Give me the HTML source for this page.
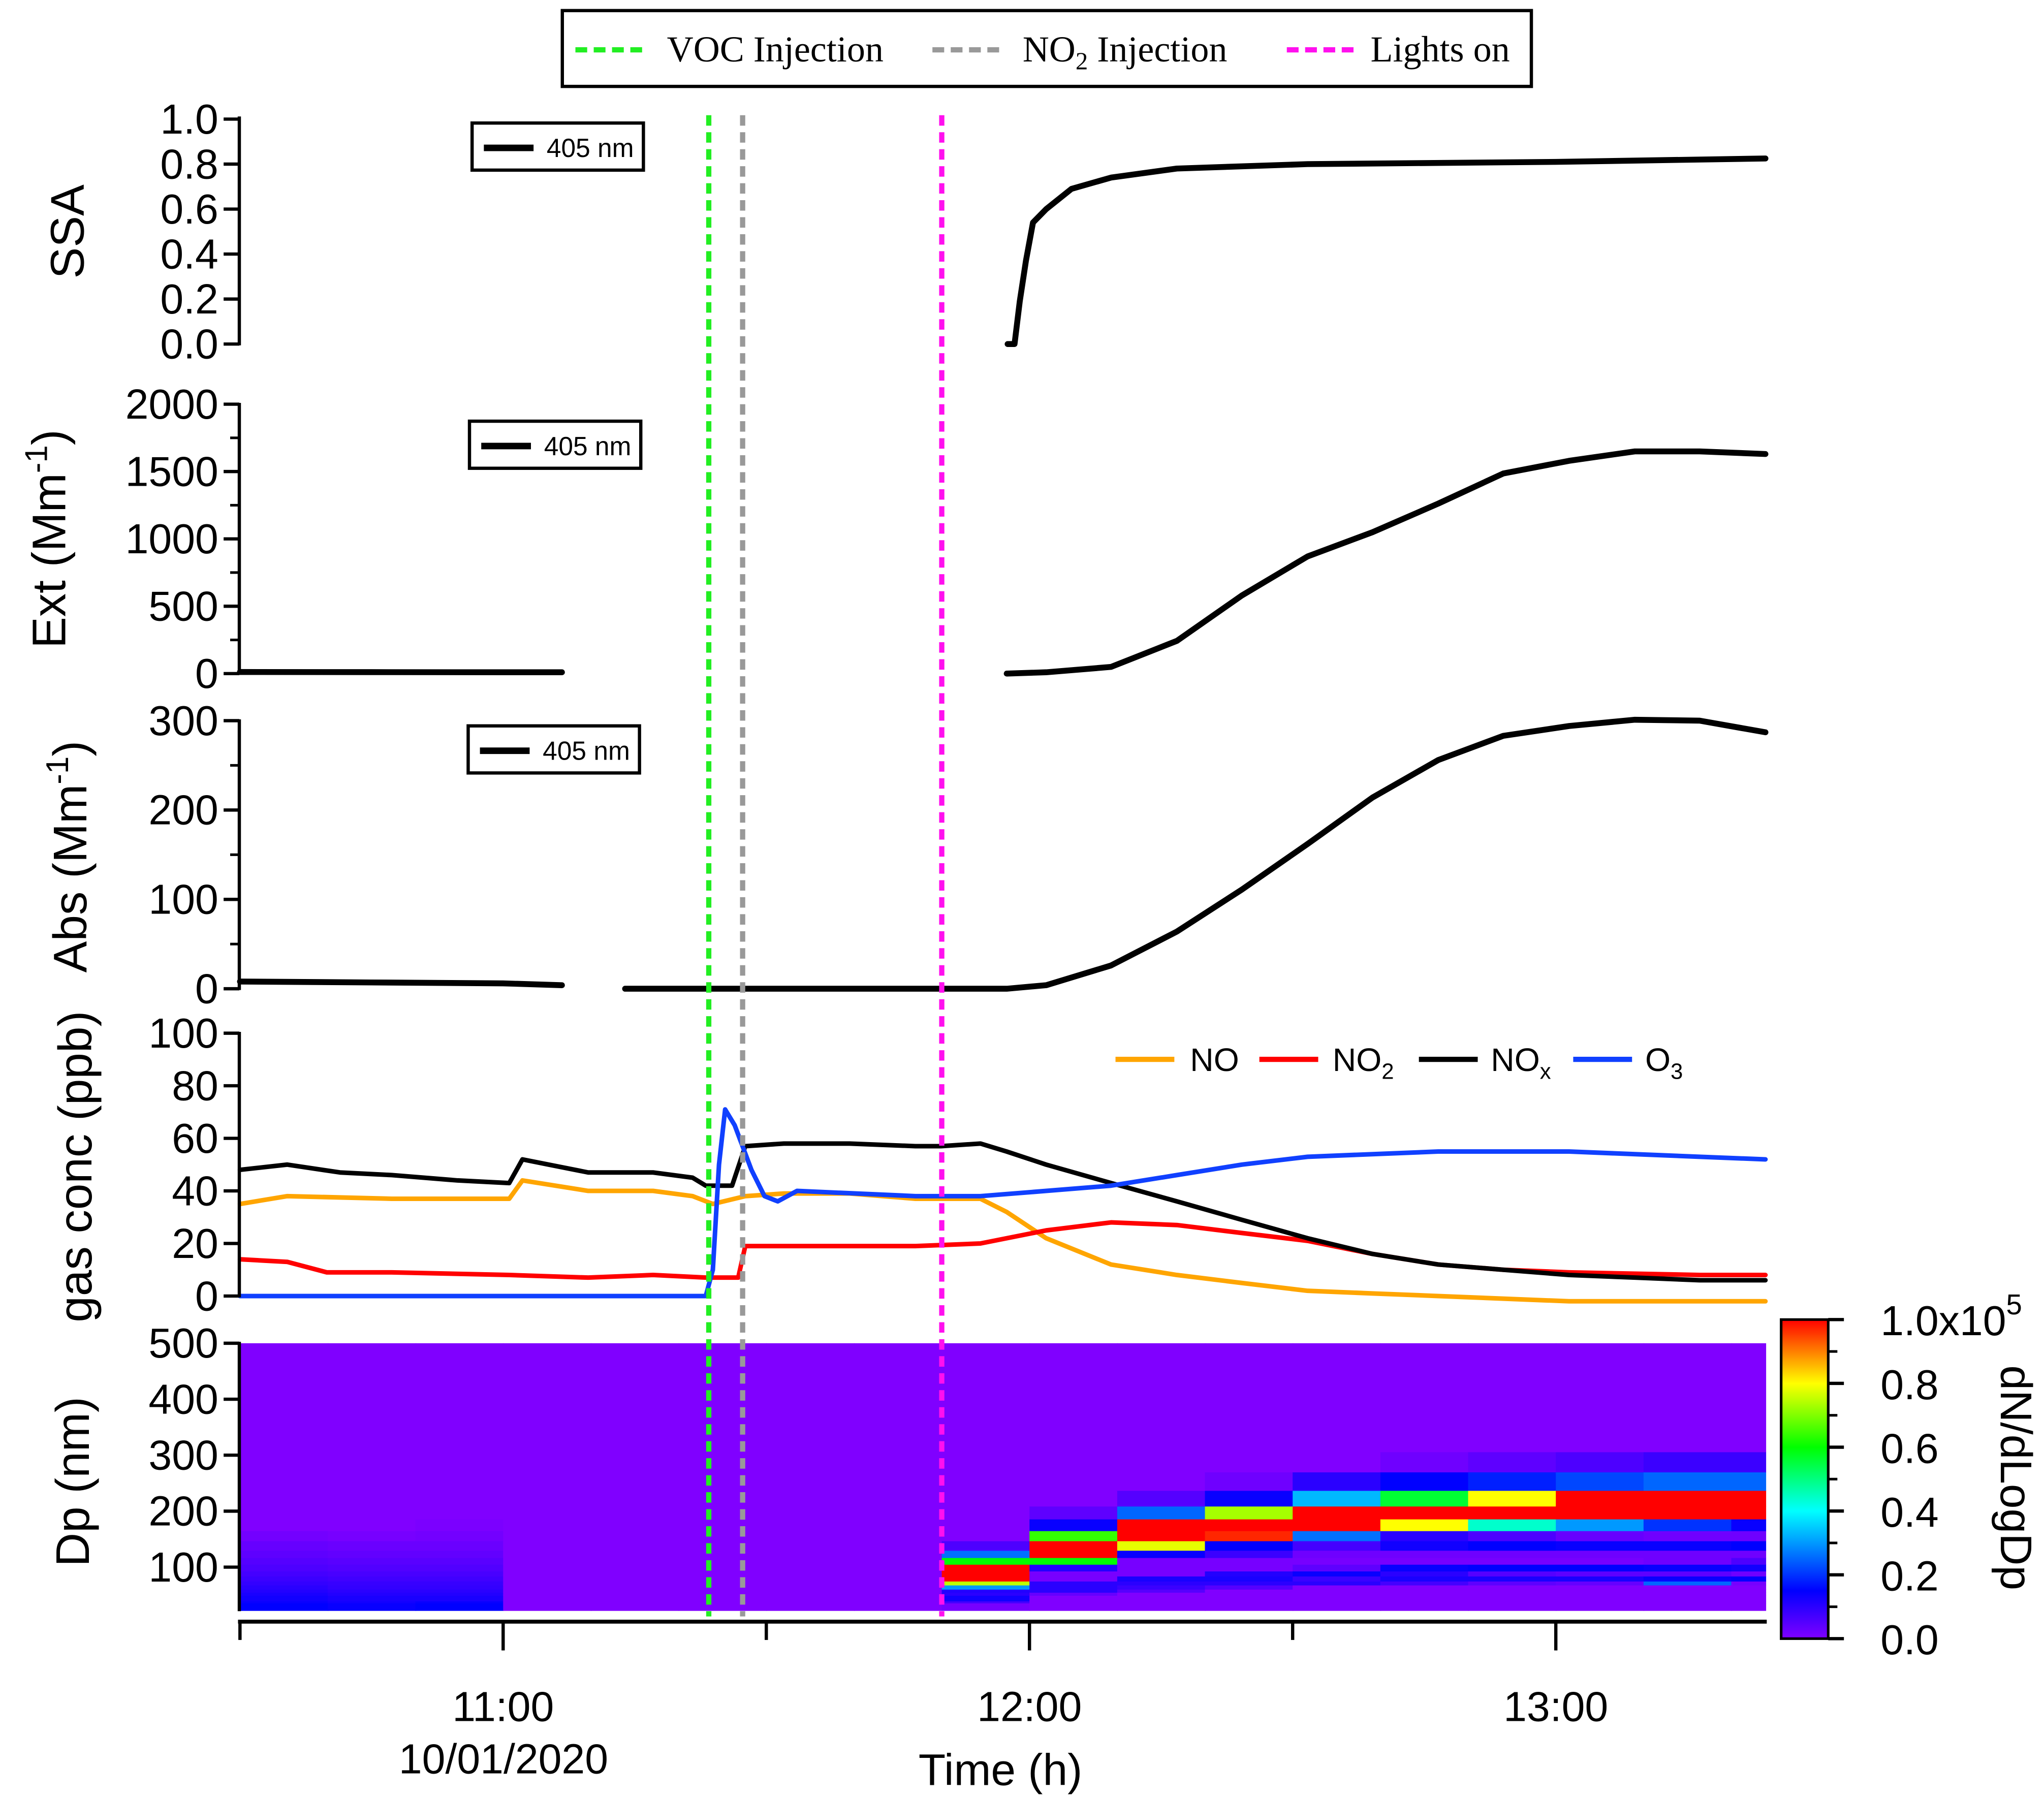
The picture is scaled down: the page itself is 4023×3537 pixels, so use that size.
<!DOCTYPE html>
<html><head><meta charset="utf-8"><style>
html,body{margin:0;padding:0;background:#fff}
svg{display:block}
text{font-family:"Liberation Sans",sans-serif}
text.serif{font-family:"Liberation Serif",serif}
</style></head><body>
<svg id="chart" width="4023" height="3537" viewBox="0 0 1563 1374" xmlns="http://www.w3.org/2000/svg">
<rect x="0" y="0" width="1563" height="1374" fill="#fff"/>
<g id="g"></g>
</svg>
<script>
// ---- data (time in minutes after 10:00) ----
const ssaT=[117.5,118.3,118.9,119.6,120.4,121.9,124.8,129.3,136.8,151.7,180,203.9];
const ssaV=[0,0,0.19,0.37,0.54,0.6,0.69,0.74,0.78,0.8,0.81,0.825];
const extT=[30,45,60,66.7,90,117.4,121.9,129.3,136.8,144.2,151.7,159.1,166.6,174,181.5,189,196.4,203.9];
const extV=[12,11,10,10,null,0,10,50,243,580,870,1050,1262,1485,1580,1650,1650,1630];
const absT=[30,45,60,66.7,70,73.9,100,117.4,121.9,129.3,136.8,144.2,151.7,159.1,166.6,174,181.5,189,196.4,203.9];
const absV=[8,7,6,4,null,0,0,0,4,26,64,111,162,214,256,283,294,301,300,287];
const noxT=[30,35.4,41.4,47.3,54.8,60.7,62.2,65.2,69.7,77.1,81.6,83.1,86.1,87.6,92.0,99.5,107.0,109.9,114.4,117.4,121.9,129.3,136.8,144.2,151.7,159.1,166.6,174.0,181.5,189.0,196.4,203.9];
const noxV=[48,50,47,46,44,43,52,50,47,47,45,42,42,57,58,58,57,57,58,55,50,43,36,29,22,16,12,10,8,7,6,6];
const noT=[30,35.4,47.3,60.7,62.2,69.7,77.1,81.6,83.9,87.6,92.0,99.5,107.0,114.4,117.4,121.9,129.3,136.8,144.2,151.7,159.1,166.6,174.0,181.5,196.4,203.9];
const noV=[35,38,37,37,44,40,40,38,35,38,39,39,37,37,32,22,12,8,5,2,1,0,-1,-2,-2,-2];
const no2T=[30,35.4,39.9,47.3,60.7,69.7,77.1,83.1,86.8,87.6,92.0,107.0,114.4,121.9,129.3,136.8,144.2,151.7,159.1,166.6,174.0,181.5,196.4,203.9];
const no2V=[14,13,9,9,8,7,8,7,7,19,19,19,20,25,28,27,24,21,16,12,10,9,8,8];
const o3T=[30,83.1,83.9,84.6,85.3,86.4,88.3,89.8,91.3,93.5,107.0,114.4,121.9,129.3,136.8,144.2,151.7,166.6,181.5,196.4,203.9];
const o3V=[0,0,10,50,71,65,48,38,36,40,38,38,40,42,46,50,53,55,55,53,52];
const dpEdges=[22.5,36,39.5,49.5,55,60.5,68,75,84,93,105,117,130,147,165,186,209,237,270,306,500];
const binStarts=[30,40,50,60,70,80,90,100,110,120,130,140,150,160,170,180,190,200];
const cells=[
[0.15,0.14,0.13,0.12,0.11,0.10,0.09,0.08,0.07,0.06,0.05,0.04,0.03,0.015,0,0,0,0,0,0],
[0.14,0.13,0.12,0.11,0.10,0.09,0.085,0.075,0.065,0.055,0.045,0.035,0.025,0.01,0,0,0,0,0,0],
[0.15,0.14,0.12,0.11,0.10,0.09,0.085,0.075,0.065,0.055,0.045,0.035,0.025,0.015,0.005,0,0,0,0,0],
[0,0,0,0,0,0,0,0,0,0,0,0,0,0,0,0,0,0,0,0],
[0,0,0,0,0,0,0,0,0,0,0,0,0,0,0,0,0,0,0,0],
[0,0,0,0,0,0,0,0,0,0,0,0,0,0,0,0,0,0,0,0],
[0,0,0,0,0,0,0,0,0,0,0,0,0,0,0,0,0,0,0,0],
[0,0,0,0,0,0,0,0,0,0,0,0,0,0,0,0,0,0,0,0],
[0.01,0.07,0.13,0.10,0.11,0.30,0.75,1,1,1,0.6,0.26,0.06,0,0,0,0,0,0,0],
[0,0,0,0.03,0.1,0.1,0.1,0.01,0.01,0.11,0.6,1,1,0.64,0.14,0.04,0,0,0,0],
[0,0,0,0,0.05,0.08,0.1,0.12,0.01,0.01,0.01,0.14,0.78,1,1,0.25,0.05,0,0,0],
[0,0,0,0,0,0.05,0.1,0.12,0.11,0.01,0.01,0.08,0.15,0.97,1,0.73,0.14,0.02,0,0],
[0,0,0,0,0,0,0.1,0.08,0.14,0.04,0.01,0.02,0.07,0.26,1,1,0.33,0.1,0,0],
[0,0,0,0,0,0,0.07,0.12,0.1,0.14,0.01,0.02,0.13,0.1,0.8,1,0.56,0.15,0.02,0],
[0,0,0,0,0,0,0.04,0.12,0.05,0.15,0.01,0.02,0.15,0.06,0.44,1,0.8,0.18,0.04,0],
[0,0,0,0,0,0,0.03,0.12,0.04,0.15,0.01,0.02,0.14,0.03,0.3,1,1,0.22,0.06,0],
[0,0,0,0,0,0,0.25,0.14,0.04,0.14,0.02,0.02,0.14,0.02,0.2,1,1,0.25,0.08,0],
[0,0,0,0,0,0,0.01,0.15,0.02,0.13,0.06,0.02,0.15,0.02,0.14,1,1,0.25,0.08,0]];
const eventTimes=[83.44,87.3,110.0];
const eventColors=["#22ee22","#999999","#ff10ee"];
const ssaTicks=[0,0.2,0.4,0.6,0.8,1.0];
const extTicks=[0,500,1000,1500,2000];
const absTicks=[0,100,200,300];
const gasTicks=[0,20,40,60,80,100];
const dpTicks=[100,200,300,400,500];
const cbTicks=[0,0.2,0.4,0.6,0.8,1.0];
const timeTicks=[30,60,90,120,150,180];

// ---- scales ----
const T0=30,T1=203.9,X0=183.5,PX=6.708;
const xs=m=>X0+(m-T0)*PX;
const ySSA=v=>263-v*172;
const yExt=v=>515-v*0.103;
const yAbs=v=>756-v*0.6833;
const yGas=v=>991-v*2.01;
const yDp=d=>1241.1-d*0.428;
const NS="http://www.w3.org/2000/svg";
const G=document.getElementById('g');
function mk(tag,attrs,parent){const e=document.createElementNS(NS,tag);for(const k in attrs)e.setAttribute(k,attrs[k]);(parent||G).appendChild(e);return e;}
function hue(v){const st=[[0,270],[0.15,240],[0.4,180],[0.6,120],[0.8,60],[1,0]];v=Math.max(0,Math.min(1,v));for(let i=1;i<st.length;i++){if(v<=st[i][0]){const a=st[i-1],b=st[i];return a[1]+(v-a[0])/(b[0]-a[0])*(b[1]-a[1]);}}return 0;}
const col=v=>`hsl(${hue(v)},100%,50%)`;

// ---- heatmap ----
const hm=mk('g',{});


binStarts.forEach((t,i)=>{
  const tEnd=Math.min(t+10,T1);
  for(let j=0;j<dpEdges.length-1;j++){
    const r=mk('rect',{x:xs(t),y:yDp(dpEdges[j+1]),width:xs(tEnd)-xs(t)+0.5,height:yDp(dpEdges[j])-yDp(dpEdges[j+1])+0.3,fill:col(cells[i][j])},hm);
    
    
  }
});

// ---- series ----
function series(T,V,ys,color,w,name){
  let d='',pen=false;
  T.forEach((t,i)=>{if(V[i]===null){pen=false;return;}d+=(pen?'L':'M')+xs(t).toFixed(1)+' '+ys(V[i]).toFixed(1)+' ';pen=true;});
  const p=mk('path',{d:d,fill:'none',stroke:color,'stroke-width':w,'stroke-linejoin':'round','stroke-linecap':'round'});
  
  
}
series(ssaT,ssaV,ySSA,'#000',4.5,'ssa-line');
series(extT,extV,yExt,'#000',4.5,'ext-line');
series(absT,absV,yAbs,'#000',4.5,'abs-line');
series(noT,noV,yGas,'#ffa500',3.5,'no-line');
series(no2T,no2V,yGas,'#ff0000',3.5,'no2-line');
series(noxT,noxV,yGas,'#000',3.5,'nox-line');
series(o3T,o3V,yGas,'#1040ff',3.5,'o3-line');

// ---- axes ----
function yAxis(ticks,ys,fmt,top,bot,minorStep,name){
  const a=mk('g',{});
  
  
  mk('line',{x1:183,y1:top,x2:183,y2:bot,stroke:'#000','stroke-width':2.5},a);
  ticks.forEach(v=>{const y=ys(v);mk('line',{x1:171,y1:y,x2:183,y2:y,stroke:'#000','stroke-width':2.5},a);
    const t=mk('text',{x:167,y:y+11,'text-anchor':'end','font-size':32},a);t.textContent=fmt(v);});
  if(minorStep){for(let v=ticks[0];v<ticks[ticks.length-1];v+=minorStep){const y=ys(v+minorStep/2);mk('line',{x1:176,y1:y,x2:183,y2:y,stroke:'#000','stroke-width':2},a);}}
}
yAxis(ssaTicks,ySSA,v=>v.toFixed(1),89,264,0,'ssa-y-axis');
yAxis(extTicks,yExt,v=>String(v),308,516,500,'ext-y-axis');
yAxis(absTicks,yAbs,v=>String(v),550,757,100,'abs-y-axis');
yAxis(gasTicks,yGas,v=>String(v),789,992,0,'gas-y-axis');
yAxis(dpTicks,yDp,v=>String(v),1026,1232,0,'dp-y-axis');

// x axis
const xa=mk('g',{});


mk('line',{x1:182,y1:1240,x2:1351,y2:1240,stroke:'#000','stroke-width':3},xa);
timeTicks.forEach(m=>{const x=xs(m);const major=(m%60===0);mk('line',{x1:x,y1:1240,x2:x,y2:major?1262:1254,stroke:'#000','stroke-width':2.5},xa);
  if(major){const t=mk('text',{x:x,y:1316,'text-anchor':'middle','font-size':32},xa);const h=10+Math.floor(m/60);t.textContent=h+':00';}});

// event lines
eventTimes.forEach((t,i)=>{const l=mk('line',{x1:xs(t),y1:88,x2:xs(t),y2:1236,stroke:eventColors[i],'stroke-width':4,'stroke-dasharray':'8 5'});
  
  });

// colorbar
const defs=mk('defs',{});
const lg=mk('linearGradient',{id:'cb',x1:0,y1:1,x2:0,y2:0},defs);
[0,0.1,0.15,0.25,0.4,0.5,0.6,0.7,0.8,0.9,1].forEach(v=>mk('stop',{offset:v,'stop-color':col(v)},lg));
const cb=mk('g',{});


mk('rect',{x:1362,y:1009,width:36,height:244,fill:'url(#cb)',stroke:'#000','stroke-width':2},cb);
const yCb=v=>1253-v*244;
cbTicks.forEach(v=>{const y=yCb(v);mk('line',{x1:1398,y1:y,x2:1410,y2:y,stroke:'#000','stroke-width':2.5},cb);
  const t=mk('text',{x:1438,y:y+12,'font-size':32},cb);t.textContent=v===1?'1.0x10':v.toFixed(1);
  if(v===1){const s=mk('text',{x:1534,y:y-4,'font-size':22},cb);s.textContent='5';}});
for(let v=0.1;v<1;v+=0.2){const y=yCb(v);mk('line',{x1:1398,y1:y,x2:1405,y2:y,stroke:'#000','stroke-width':2},cb);}
</script>

<svg style="position:absolute;left:0;top:0" width="4023" height="3537" viewBox="0 0 1563 1374" xmlns="http://www.w3.org/2000/svg">
<g>
<text transform="translate(64,177) rotate(-90)" text-anchor="middle" font-size="36">SSA</text>
<text transform="translate(50,412) rotate(-90)" text-anchor="middle" font-size="36">Ext (Mm<tspan font-size="24" dy="-14">-1</tspan><tspan dy="14">)</tspan></text>
<text transform="translate(66,655) rotate(-90)" text-anchor="middle" font-size="36">Abs (Mm<tspan font-size="24" dy="-14">-1</tspan><tspan dy="14">)</tspan></text>
<text transform="translate(70,892) rotate(-90)" text-anchor="middle" font-size="36">gas conc (ppb)</text>
<text transform="translate(68,1133) rotate(-90)" text-anchor="middle" font-size="36">Dp (nm)</text>
<text transform="translate(1530,1130) rotate(90)" text-anchor="middle" font-size="34">dN/dLogDp</text>
<text x="385" y="1356" text-anchor="middle" font-size="32">10/01/2020</text>
<text x="765" y="1365" text-anchor="middle" font-size="34">Time (h)</text>

<g>
<rect x="361" y="94" width="131" height="36" fill="#fff" stroke="#000" stroke-width="2.5"/>
<line x1="370" y1="113" x2="408" y2="113" stroke="#000" stroke-width="5"/>
<text x="418" y="120" font-size="20">405 nm</text></g>
<g>
<rect x="359" y="322" width="131" height="36" fill="#fff" stroke="#000" stroke-width="2.5"/>
<line x1="368" y1="341" x2="406" y2="341" stroke="#000" stroke-width="5"/>
<text x="416" y="348" font-size="20">405 nm</text></g>
<g>
<rect x="358" y="555" width="131" height="36" fill="#fff" stroke="#000" stroke-width="2.5"/>
<line x1="367" y1="574" x2="405" y2="574" stroke="#000" stroke-width="5"/>
<text x="415" y="581" font-size="20">405 nm</text></g>

<g font-size="25">
<line x1="853" y1="810" x2="898" y2="810" stroke="#ffa500" stroke-width="4"/><text x="910" y="819">NO</text>
<line x1="963" y1="810" x2="1008" y2="810" stroke="#ff0000" stroke-width="4"/><text x="1019" y="819">NO<tspan font-size="17" dy="6">2</tspan></text>
<line x1="1085" y1="810" x2="1130" y2="810" stroke="#000" stroke-width="4"/><text x="1140" y="819">NO<tspan font-size="17" dy="6">x</tspan></text>
<line x1="1203" y1="810" x2="1248" y2="810" stroke="#1040ff" stroke-width="4"/><text x="1258" y="819">O<tspan font-size="17" dy="6">3</tspan></text>
</g>

<g font-size="28">
<rect x="430" y="8" width="741" height="58" fill="#fff" stroke="#000" stroke-width="2.5"/>
<line x1="440" y1="38" x2="492" y2="38" stroke="#22ee22" stroke-width="4" stroke-dasharray="9 5"/>
<text class="serif" x="510" y="47">VOC Injection</text>
<line x1="713" y1="38" x2="765" y2="38" stroke="#999" stroke-width="4" stroke-dasharray="9 5"/>
<text class="serif" x="782" y="47">NO<tspan font-size="19" dy="6">2</tspan><tspan dy="-6"> Injection</tspan></text>
<line x1="984" y1="38" x2="1036" y2="38" stroke="#ff10ee" stroke-width="4" stroke-dasharray="9 5"/>
<text class="serif" x="1048" y="47">Lights on</text>
</g>
</g>
</svg>
</body></html>
